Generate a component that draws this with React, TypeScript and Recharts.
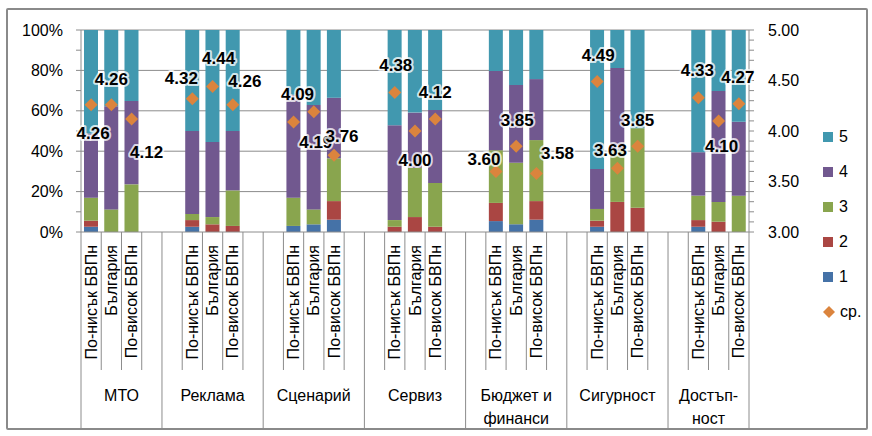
import { ComposedChart, Bar, Line, XAxis, YAxis, CartesianGrid } from "recharts";

const GROUPS = [["МТО"], ["Реклама"], ["Сценарий"], ["Сервиз"], ["Бюджет и", "финанси"], ["Сигурност"], ["Достъп-", "ност"]];
const REGIONS = ["По-нисък БВПн", "България", "По-висок БВПн"];

// shares in %, three regions per group, group by group
const SHARE_1 = [2.6, 0, 0, 2.6, 0, 0, 3.0, 3.8, 6.1, 0, 0, 0, 5.4, 3.8, 6.1, 2.6, 0, 0, 2.6, 0, 0];
const SHARE_2 = [3.0, 0, 0, 3.3, 3.8, 3.0, 0, 0, 9.2, 2.6, 7.4, 2.6, 9.0, 0, 9.2, 3.0, 14.9, 12.0, 3.3, 5.1, 0];
const SHARE_3 = [11.4, 11.2, 23.6, 3.0, 3.6, 17.6, 14.0, 7.4, 21.2, 3.3, 24.4, 21.7, 26.1, 30.5, 30.2, 5.8, 26.0, 39.3, 12.1, 9.8, 18.0];
const SHARE_4 = [31.8, 51.0, 41.3, 41.1, 37.2, 29.4, 51.0, 51.7, 30.0, 46.9, 27.3, 36.1, 39.2, 38.5, 30.2, 19.8, 40.3, 0, 21.5, 54.9, 36.6];
const SHARE_5 = [51.2, 37.8, 35.1, 50.0, 55.4, 50.0, 32.0, 37.1, 33.5, 47.2, 40.9, 39.6, 20.3, 27.2, 24.3, 68.8, 18.8, 48.7, 60.5, 30.2, 45.4];
const MEAN = [4.26, 4.26, 4.12, 4.32, 4.44, 4.26, 4.09, 4.19, 3.76, 4.38, 4.0, 4.12, 3.6, 3.85, 3.58, 4.49, 3.63, 3.85, 4.33, 4.1, 4.27];

const LEFT_TICKS = [0, 10, 20, 30, 40, 50, 60, 70, 80, 90, 100];
const RIGHT_TICKS = [3.0, 3.1, 3.2, 3.3, 3.4, 3.5, 3.6, 3.7, 3.8, 3.9, 4.0, 4.1, 4.2, 4.3, 4.4, 4.5, 4.6, 4.7, 4.8, 4.9, 5.0];

const SERIES = [
  { key: "s1", name: "1", color: "#4572A7", values: SHARE_1 },
  { key: "s2", name: "2", color: "#AA4643", values: SHARE_2 },
  { key: "s3", name: "3", color: "#89A54E", values: SHARE_3 },
  { key: "s4", name: "4", color: "#71588F", values: SHARE_4 },
  { key: "s5", name: "5", color: "#4198AF", values: SHARE_5 },
];
const MEAN_COLOR = "#DB843D";
const AXIS = "#8c8c8c";
const FONT = "'Liberation Sans', Arial, sans-serif";

// label nudges (dx, dy) for the mean labels, one per point
const LABEL_NUDGE = [
  [2, 29], [0, -25], [15, 34], [-11, -20], [6, -28], [12, -23], [4, -27], [2, 31], [8, -19],
  [1, -27], [0, 29], [0, -26], [-12, -12], [1, -26], [21, -20], [1, -26], [-7, -18], [0, -26],
  [-1, -27], [3, 26], [-1, -26],
];

type Row = { slot: number; group: number; label: string; pt: number; mean: number | null; [k: string]: any };

const ROWS: Row[] = [];
GROUPS.forEach((_, g) => {
  const pad = () => ROWS.push({ slot: ROWS.length, group: g, label: "", pt: -1, mean: null });
  if (g > 0) pad();
  REGIONS.forEach((region, r) => {
    const pt = g * REGIONS.length + r;
    const row: Row = { slot: ROWS.length, group: g, label: region, pt, mean: MEAN[pt] };
    SERIES.forEach((s) => (row[s.key] = s.values[pt]));
    ROWS.push(row);
  });
  if (g < GROUPS.length - 1) pad();
});

const SPANS = GROUPS.map((_, g) => {
  const slots = ROWS.filter((r) => r.group === g);
  return { first: slots[0].slot, count: slots.length };
});

const W = 872;
const H = 436;
const M = { top: 30, right: 73, bottom: 8, left: 21 };
const LEFT_W = 60;
const RIGHT_W = 50;
const X_H = 196;
const PLOT_W = W - M.left - M.right - LEFT_W - RIGHT_W;
const BAND = PLOT_W / ROWS.length;

function SlotTick(props: any) {
  const { x, y, payload } = props;
  const row = ROWS[payload.value];
  if (!row) return <g />;
  const span = SPANS[row.group];
  const first = span.first === row.slot;
  const last = row.slot === ROWS.length - 1;
  const left = x - BAND / 2;
  const gx = x + ((span.count - 1) / 2) * BAND;
  return (
    <g>
      <line x1={left} x2={left} y1={y} y2={y + (first ? X_H : 138)} stroke={AXIS} />
      {last && <line x1={x + BAND / 2} x2={x + BAND / 2} y1={y} y2={y + X_H} stroke={AXIS} />}
      {row.label && (
        <text
          transform={`translate(${x},${y + 13}) rotate(-90)`}
          textAnchor="end"
          dominantBaseline="central"
          fontSize={16}
          fontFamily={FONT}
          fill="#000"
        >
          {row.label}
        </text>
      )}
      {first &&
        GROUPS[row.group].map((line, i) => (
          <text
            key={i}
            x={gx}
            y={y + 163 + i * 23}
            textAnchor="middle"
            dominantBaseline="central"
            fontSize={16}
            fontFamily={FONT}
            fill="#000"
          >
            {line}
          </text>
        ))}
    </g>
  );
}

function LeftTick(props: any) {
  const { x, y, payload } = props;
  if (payload.value % 20 !== 0) return <g />;
  return (
    <text x={x} y={y} textAnchor="end" dominantBaseline="central" fontSize={16} fontFamily={FONT} fill="#000">
      {payload.value}%
    </text>
  );
}

function RightTick(props: any) {
  const { x, y, payload } = props;
  const v = payload.value;
  if (Math.abs(v * 2 - Math.round(v * 2)) > 1e-6) return <g />;
  return (
    <text x={x} y={y} textAnchor="start" dominantBaseline="central" fontSize={16} fontFamily={FONT} fill="#000">
      {v.toFixed(2)}
    </text>
  );
}

function Diamond(props: any) {
  const { cx, cy, payload } = props;
  if (payload == null || payload.mean == null || cy == null) return <g key={props.index} />;
  const r = 6.5;
  return (
    <path
      key={props.index}
      d={`M${cx},${cy - r} L${cx + r},${cy} L${cx},${cy + r} L${cx - r},${cy} Z`}
      fill={MEAN_COLOR}
    />
  );
}

function MeanLabel(props: any) {
  const { x, y, value, index } = props;
  const row = ROWS[index];
  if (value == null || !row || row.pt < 0) return <g />;
  const [dx, dy] = LABEL_NUDGE[row.pt];
  return (
    <text
      x={x + dx}
      y={y + dy}
      textAnchor="middle"
      dominantBaseline="central"
      fontSize={17}
      fontWeight="bold"
      fontFamily={FONT}
      fill="#000"
      stroke="rgba(255,255,255,0.75)"
      strokeWidth={4}
      strokeLinejoin="round"
      paintOrder="stroke"
    >
      {Number(value).toFixed(2)}
    </text>
  );
}

const LEGEND = [...SERIES].reverse();

export default function App() {
  return (
    <div style={{ position: "absolute", left: 0, top: 0, width: W, height: H, background: "#fff" }}>
      <div
        style={{
          position: "absolute",
          left: 6,
          top: 8,
          width: 858,
          height: 418,
          border: "2px solid #8a8a8a",
          borderRadius: 2,
        }}
      />
      <div style={{ position: "absolute", left: 0, top: 0 }}>
        <ComposedChart width={W} height={H} data={ROWS} margin={M} barSize={14}>
          <CartesianGrid yAxisId="left" vertical={false} horizontalValues={[20, 40, 60, 80, 100]} stroke={AXIS} />
          <XAxis
            dataKey="slot"
            type="category"
            interval={0}
            height={X_H}
            tickSize={0}
            tickMargin={0}
            tickLine={false}
            axisLine={{ stroke: AXIS }}
            tick={<SlotTick />}
          />
          <YAxis
            yAxisId="left"
            width={LEFT_W}
            domain={[0, 100]}
            ticks={LEFT_TICKS}
            interval={0}
            tickSize={5}
            tickMargin={13}
            axisLine={{ stroke: AXIS }}
            tickLine={{ stroke: AXIS }}
            tick={<LeftTick />}
          />
          <YAxis
            yAxisId="right"
            orientation="right"
            width={RIGHT_W}
            domain={[3, 5]}
            ticks={RIGHT_TICKS}
            interval={0}
            tickSize={5}
            tickMargin={14}
            axisLine={{ stroke: AXIS }}
            tickLine={{ stroke: AXIS }}
            tick={<RightTick />}
          />
          {SERIES.map((s) => (
            <Bar key={s.key} yAxisId="left" dataKey={s.key} stackId="a" fill={s.color} isAnimationActive={false} />
          ))}
          <Line
            yAxisId="right"
            dataKey="mean"
            stroke="none"
            dot={Diamond}
            activeDot={false}
            label={MeanLabel}
            isAnimationActive={false}
          />
        </ComposedChart>
      </div>
      <div style={{ position: "absolute", left: 823, top: 119, fontFamily: FONT, fontSize: 16 }}>
        {LEGEND.map((s) => (
          <div key={s.key} style={{ display: "flex", alignItems: "center", height: 35 }}>
            <span style={{ width: 10, height: 10, background: s.color, marginRight: 6 }} />
            <span>{s.name}</span>
          </div>
        ))}
        <div style={{ display: "flex", alignItems: "center", height: 35 }}>
          <svg width={12} height={12} style={{ marginRight: 5 }}>
            <path d="M6,0 L12,6 L6,12 L0,6 Z" fill={MEAN_COLOR} />
          </svg>
          <span>ср.</span>
        </div>
      </div>
    </div>
  );
}
